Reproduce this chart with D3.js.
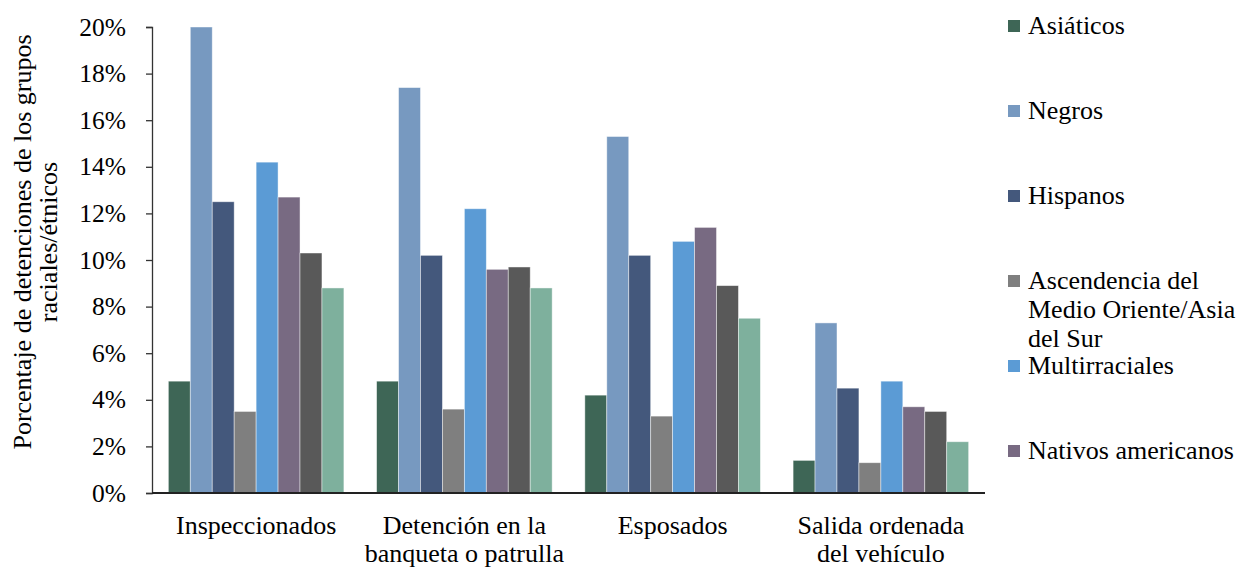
<!DOCTYPE html>
<html>
<head>
<meta charset="utf-8">
<script src="https://cdn.jsdelivr.net/npm/d3@7"></script>
<style>
  body { margin: 0; background: #fff; }
  svg text { font-family: "Liberation Serif", "Times New Roman", serif; fill: #000; }
</style>
</head>
<body>
<svg id="chart" width="1243" height="567"></svg>
<script>
// categorias (cada una en lineas para la etiqueta)
const categories = [
    ['Inspeccionados'],
    ['Detención en la', 'banqueta o patrulla'],
    ['Esposados'],
    ['Salida ordenada', 'del vehículo']
];

const seriesNames = [
    'Asiáticos',
    'Negros',
    'Hispanos',
    ['Ascendencia del', 'Medio Oriente/Asia', 'del Sur'],
    'Multirraciales',
    'Nativos americanos',
    'Blancos',
    'Otros'
];

const seriesColors = ['#3e6656', '#7799c0', '#44587c', '#7f7f7f', '#5b9bd5', '#786a82', '#595959', '#7eb09d'];

// valores en % por serie, uno por categoria
const asiaticos     = [4.8, 4.8, 4.2, 1.4];
const negros        = [20.0, 17.4, 15.3, 7.3];
const hispanos      = [12.5, 10.2, 10.2, 4.5];
const medioOriente  = [3.5, 3.6, 3.3, 1.3];
const multirracial  = [14.2, 12.2, 10.8, 4.8];
const nativos       = [12.7, 9.6, 11.4, 3.7];
const blancos       = [10.3, 9.7, 8.9, 3.5];
const otros         = [8.8, 8.8, 7.5, 2.2];

const seriesValues = [asiaticos, negros, hispanos, medioOriente, multirracial, nativos, blancos, otros];

const yTicks = [0, 2, 4, 6, 8, 10, 12, 14, 16, 18, 20];

// solo se ven seis entradas de la leyenda
const legendShown = 6;

const fontSize = 26;
const fontFamily = '"Liberation Serif", "Times New Roman", serif';

let svg = d3.select('#chart');

let margin = { left: 152, right: 258, top: 27, bottom: 74 };
let width  = 1243 - margin.left - margin.right;
let height = 567 - margin.top - margin.bottom;

let g = svg.append('g').attr('transform', `translate(${margin.left},${margin.top})`);

let x0
    = d3.scaleBand()
        .domain(d3.range(categories.length))
        .range([0, width])
        .paddingInner(0.157)
        .paddingOuter(0.0785);

let x1
    = d3.scaleBand()
        .domain(d3.range(seriesValues.length))
        .range([0, x0.bandwidth()]);

let y
    = d3.scaleLinear()
        .domain([0, 20])
        .range([height, 0]);

// barras
let groups = g.selectAll('g.cat')
    .data(categories)
    .join('g')
    .attr('class', 'cat')
    .attr('transform', (d, i) => `translate(${x0(i)},0)`);

groups.selectAll('rect')
    .data((d, i) => seriesValues.map((s, k) => ({ k: k, v: s[i] })))
    .join('rect')
    .attr('x', d => x1(d.k))
    .attr('y', d => y(d.v))
    .attr('width', x1.bandwidth())
    .attr('height', d => height - y(d.v))
    .attr('fill', d => seriesColors[d.k])
    .attr('stroke', 'rgba(255,255,255,0.55)')
    .attr('stroke-width', 0.8);

// eje y
let yAxis = g.append('g')
    .attr('font-family', fontFamily)
    .call(d3.axisLeft(y)
        .tickValues(yTicks)
        .tickFormat(d => d + '%')
        .tickSize(6)
        .tickPadding(20));

yAxis.select('.domain').attr('stroke', '#333').attr('stroke-width', 1.3);
yAxis.selectAll('.tick line').attr('stroke', '#333').attr('stroke-width', 1.3);
yAxis.selectAll('.tick text')
    .attr('font-size', fontSize - 0.5)
    .attr('font-family', fontFamily)
    .attr('fill', '#000');

// linea base
g.append('line')
    .attr('x1', 0)
    .attr('x2', width)
    .attr('y1', y(0))
    .attr('y2', y(0))
    .attr('stroke', '#222')
    .attr('stroke-width', 1.8);

// etiquetas de categoria
let catLabels = g.selectAll('text.cat-label')
    .data(categories)
    .join('text')
    .attr('class', 'cat-label')
    .attr('text-anchor', 'middle')
    .attr('font-size', fontSize)
    .attr('font-family', fontFamily)
    .attr('transform', (d, i) => `translate(${x0(i) + x0.bandwidth() / 2},${height + 41})`);

catLabels.selectAll('tspan')
    .data(d => d)
    .join('tspan')
    .attr('x', 0)
    .attr('dy', (d, i) => i === 0 ? 0 : 28)
    .text(d => d);

// titulo eje y
let yTitle = svg.append('text')
    .attr('text-anchor', 'middle')
    .attr('font-size', fontSize)
    .attr('font-family', fontFamily)
    .attr('transform', `translate(31,${margin.top + height / 2 - 18}) rotate(-90)`);

yTitle.selectAll('tspan')
    .data(['Porcentaje de detenciones de los grupos', 'raciales/étnicos'])
    .join('tspan')
    .attr('x', 0)
    .attr('dy', (d, i) => i === 0 ? 0 : 26)
    .text(d => d);

// leyenda
let legend = svg.append('g').attr('transform', 'translate(1008,26)');

let items = legend.selectAll('g')
    .data(seriesNames.slice(0, legendShown))
    .join('g')
    .attr('transform', (d, i) => `translate(0,${i * 85})`);

items.append('rect')
    .attr('x', 0)
    .attr('y', -6)
    .attr('width', 12)
    .attr('height', 12)
    .attr('fill', (d, i) => seriesColors[i]);

let legendText = items.append('text')
    .attr('x', 20)
    .attr('y', 8)
    .attr('font-size', fontSize)
    .attr('font-family', fontFamily);

legendText.selectAll('tspan')
    .data(d => Array.isArray(d) ? d : [d])
    .join('tspan')
    .attr('x', 20)
    .attr('dy', (d, i) => i === 0 ? 0 : 29)
    .text(d => d);
</script>
</body>
</html>
